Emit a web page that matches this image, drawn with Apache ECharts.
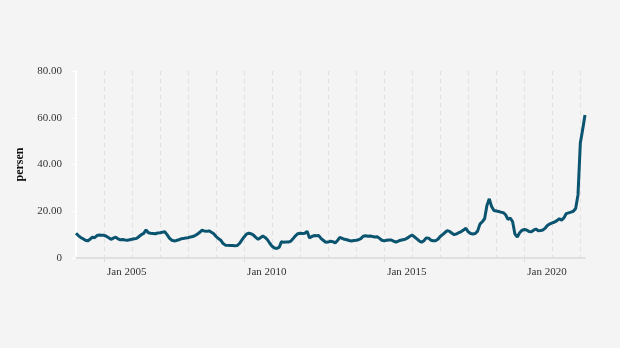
<!DOCTYPE html>
<html>
<head>
<meta charset="utf-8">
<script src="https://cdn.jsdelivr.net/npm/echarts@6/dist/echarts.min.js"></script>
<style>
  html, body { margin: 0; padding: 0; background: #f4f4f4; }
  #chart { width: 620px; height: 348px; }
</style>
</head>
<body>
<div id="chart"></div>
<script>
// Monthly values, Jan 2004 – Mar 2022 (persen)
const startYear = 2004;
const v2004 = [10.6, 9.6, 8.8, 8.2, 7.6, 7.3, 8.0, 8.9, 8.7, 9.6, 9.8, 9.7];
const v2005 = [9.7, 9.3, 8.7, 8.0, 8.5, 8.9, 8.2, 7.8, 7.9, 7.7, 7.6, 7.8];
const v2006 = [8.0, 8.2, 8.4, 9.2, 10.0, 10.5, 12.0, 10.8, 10.6, 10.5, 10.4, 10.7];
const v2007 = [10.8, 11.0, 11.2, 10.0, 8.5, 7.6, 7.3, 7.5, 7.8, 8.2, 8.3, 8.6];
const v2008 = [8.7, 9.0, 9.2, 9.6, 10.2, 11.0, 11.9, 11.5, 11.4, 11.6, 11.0, 10.4];
const v2009 = [9.2, 8.3, 7.6, 6.2, 5.5, 5.4, 5.3, 5.3, 5.2, 5.3, 6.2, 7.6];
const v2010 = [9.0, 10.2, 10.6, 10.4, 9.8, 8.8, 8.0, 8.7, 9.4, 8.8, 7.8, 6.3];
const v2011 = [5.0, 4.3, 4.1, 4.5, 7.0, 6.7, 6.9, 6.8, 7.2, 8.3, 9.5, 10.4];
const v2012 = [10.6, 10.5, 10.6, 11.4, 8.6, 9.2, 9.6, 9.5, 9.6, 8.3, 7.5, 6.7];
const v2013 = [6.8, 7.2, 7.0, 6.4, 7.5, 8.8, 8.4, 8.0, 7.8, 7.5, 7.3, 7.5];
const v2014 = [7.6, 7.8, 8.3, 9.3, 9.5, 9.3, 9.4, 9.2, 9.0, 9.1, 8.4, 7.6];
const v2015 = [7.3, 7.6, 7.7, 7.7, 7.2, 6.8, 7.2, 7.6, 7.8, 8.0, 8.6, 9.3];
const v2016 = [9.8, 9.0, 8.2, 7.3, 6.7, 7.4, 8.6, 8.5, 7.6, 7.4, 7.4, 8.0];
const v2017 = [9.2, 10.0, 10.9, 11.7, 11.4, 10.6, 10.0, 10.3, 10.9, 11.3, 12.0, 12.7];
const v2018 = [11.2, 10.5, 10.3, 10.5, 11.5, 14.5, 15.5, 16.8, 22.5, 25.3, 22.0, 20.3];
const v2019 = [20.1, 19.9, 19.6, 19.4, 18.5, 16.5, 17.1, 15.5, 10.2, 9.0, 10.8, 11.8];
const v2020 = [12.2, 12.0, 11.3, 11.2, 11.9, 12.4, 11.7, 11.8, 12.0, 12.8, 14.0, 14.6];
const v2021 = [15.0, 15.4, 16.0, 16.8, 16.2, 17.2, 19.0, 19.3, 19.6, 20.0, 21.2, 27.0];
const v2022 = [49.2, 55.0, 61.2];

const yTicks = [0, 20, 40, 60, 80];
const monthNames = ['Jan', 'Feb', 'Mar', 'Apr', 'May', 'Jun', 'Jul', 'Aug', 'Sep', 'Oct', 'Nov', 'Dec'];

const values = [].concat(v2004, v2005, v2006, v2007, v2008, v2009, v2010, v2011,
  v2012, v2013, v2014, v2015, v2016, v2017, v2018, v2019, v2020, v2021, v2022);

const categories = values.map((_, i) => {
  const y = startYear + Math.floor(i / 12);
  const m = i % 12;
  return y + '-' + String(m + 1).padStart(2, '0');
});

const isJan = (idx) => idx % 12 === 0;
const isLabelled = (idx) => isJan(idx) && (startYear + idx / 12) % 5 === 0;

const font = 'Liberation Serif';

const chart = echarts.init(document.getElementById('chart'), null, { renderer: 'canvas' });
chart.setOption({
  backgroundColor: '#f4f4f4',
  animation: false,
  grid: { left: 76, right: 35, top: 71, bottom: 90, containLabel: false },
  xAxis: {
    type: 'category',
    data: categories,
    boundaryGap: false,
    axisLine: { show: true, lineStyle: { color: '#e0e0e0', width: 2 } },
    axisTick: {
      show: true,
      interval: (idx) => isLabelled(idx),
      length: 4,
      lineStyle: { color: '#dcdcdc', width: 1 }
    },
    axisLabel: {
      interval: (idx) => isLabelled(idx),
      formatter: (val) => {
        const parts = val.split('-');
        return monthNames[parseInt(parts[1], 10) - 1] + ' ' + parts[0];
      },
      align: 'left',
      padding: [0, 0, 0, 3],
      color: '#333',
      fontFamily: font,
      fontSize: 11,
      margin: 9
    },
    splitLine: {
      show: true,
      interval: (idx) => isJan(idx),
      lineStyle: { color: '#e0e0e0', width: 1, type: [4, 4] }
    }
  },
  yAxis: {
    type: 'value',
    min: yTicks[0],
    max: yTicks[yTicks.length - 1],
    interval: yTicks[1] - yTicks[0],
    name: 'persen',
    nameLocation: 'middle',
    nameGap: 43,
    nameRotate: 90,
    nameTextStyle: { color: '#111', fontFamily: font, fontSize: 12, fontWeight: 'bold' },
    axisLine: { show: true, lineStyle: { color: '#ffffff', width: 2 } },
    axisTick: { show: true, length: 5, lineStyle: { color: '#ffffff', width: 1 } },
    axisLabel: {
      color: '#333',
      fontFamily: font,
      fontSize: 11,
      margin: 14,
      formatter: (v) => (v === 0 ? '0' : v.toFixed(2))
    },
    splitLine: { show: false }
  },
  series: [{
    type: 'line',
    data: values,
    showSymbol: false,
    symbol: 'none',
    lineStyle: { color: '#0a5470', width: 3 },
    itemStyle: { color: '#0a5470' }
  }]
});
</script>
</body>
</html>
